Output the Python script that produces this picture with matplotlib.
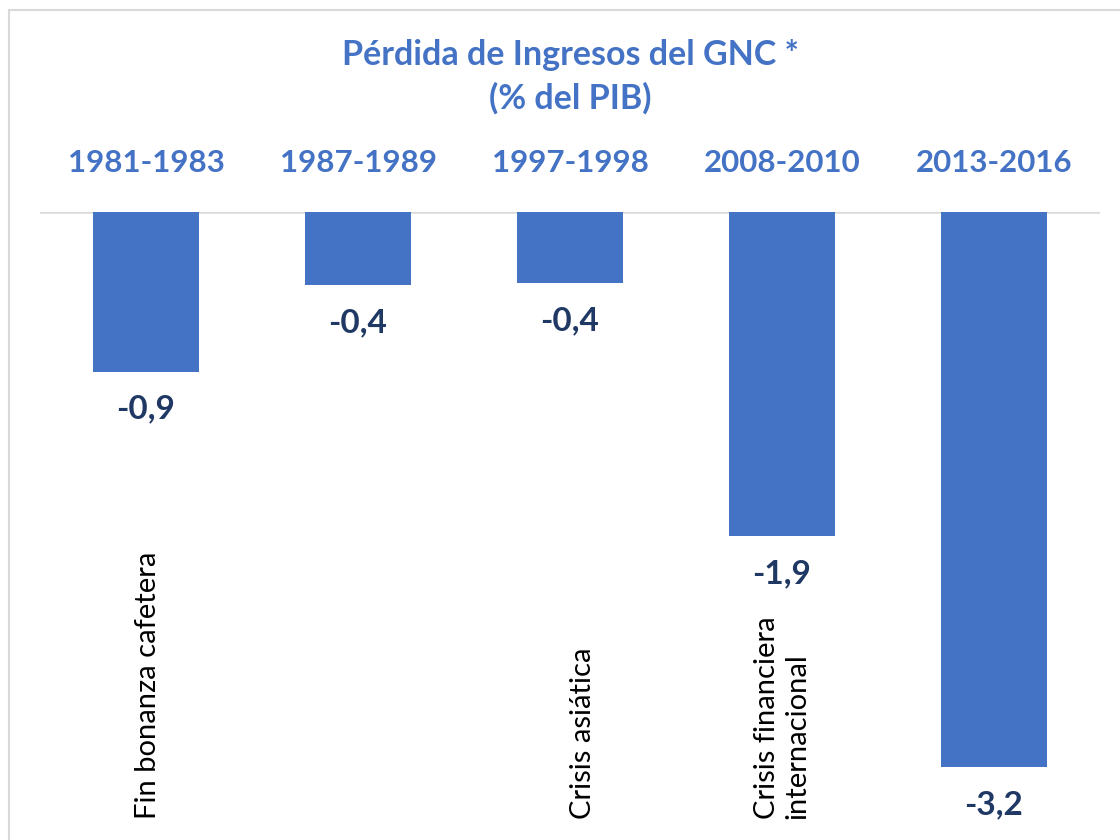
import matplotlib
matplotlib.use("Agg")
import matplotlib.pyplot as plt
from matplotlib.patches import Rectangle
from matplotlib.transforms import blended_transform_factory

plt.rcParams['font.family'] = ['Lato', 'DejaVu Sans']

periods = ["1981-1983", "1987-1989", "1997-1998", "2008-2010", "2013-2016"]
values = [-0.92, -0.42, -0.41, -1.87, -3.2]
value_labels = ["-0,9", "-0,4", "-0,4", "-1,9", "-3,2"]
notes = ["Fin bonanza cafetera", "", "Crisis asiática", "Crisis financiera\ninternacional", ""]
note_offsets = [0.01, 0.0, 0.06, 0.0, 0.0]
title = "Pérdida de Ingresos del GNC *\n(% del PIB)"

BLUE = "#4472C4"
NAVY = "#203864"

fig = plt.figure(figsize=(11.2, 8.4), dpi=100)
W, H = 1120, 840

# outer border (cropped at right/bottom)
fig.patches.append(Rectangle((9 / W, -0.1), 1.2, 1 - 10 / H + 0.1, transform=fig.transFigure,
                             fill=False, edgecolor="#D9D9D9", linewidth=1.5))

zero_y = 212
ax = fig.add_axes([40 / W, 0, 1060 / W, (H - zero_y) / H])
ax.set_xlim(-0.5, len(periods) - 0.5)
ax.set_ylim(-(H - zero_y) / 173.4, 0)
for s in ax.spines.values():
    s.set_visible(False)
ax.set_xticks([])
ax.set_yticks([])
ax.patch.set_alpha(0)

x = list(range(len(periods)))
bars = ax.bar(x, values, width=0.5, color=BLUE, zorder=2)
ax.axhline(0, color="#D9D9D9", linewidth=1.8, zorder=1)

for xi, v, lab in zip(x, values, value_labels):
    ax.annotate(lab, (xi, v), xytext=(0, -27), textcoords="offset points",
                ha="center", va="center", fontsize=24, fontweight="bold", color=NAVY)

tr = blended_transform_factory(ax.transData, fig.transFigure)
for xi, p in zip(x, periods):
    ax.text(xi, 1 - 163 / H, p, transform=tr, ha="center", va="center",
            fontsize=22.5, fontweight="bold", color=BLUE)

for xi, n, off in zip(x, notes, note_offsets):
    if n:
        ax.text(xi + off, 1 - 819 / H, n, transform=tr, rotation=90, ha="center", va="bottom",
                multialignment="left", fontsize=21, color="black", linespacing=1.2)

fig.text(570 / W, 1 - 77 / H, title, ha="center", va="center", fontsize=24.5,
         fontweight="bold", color=BLUE, linespacing=1.4)

fig.savefig("out.png", dpi=100)
